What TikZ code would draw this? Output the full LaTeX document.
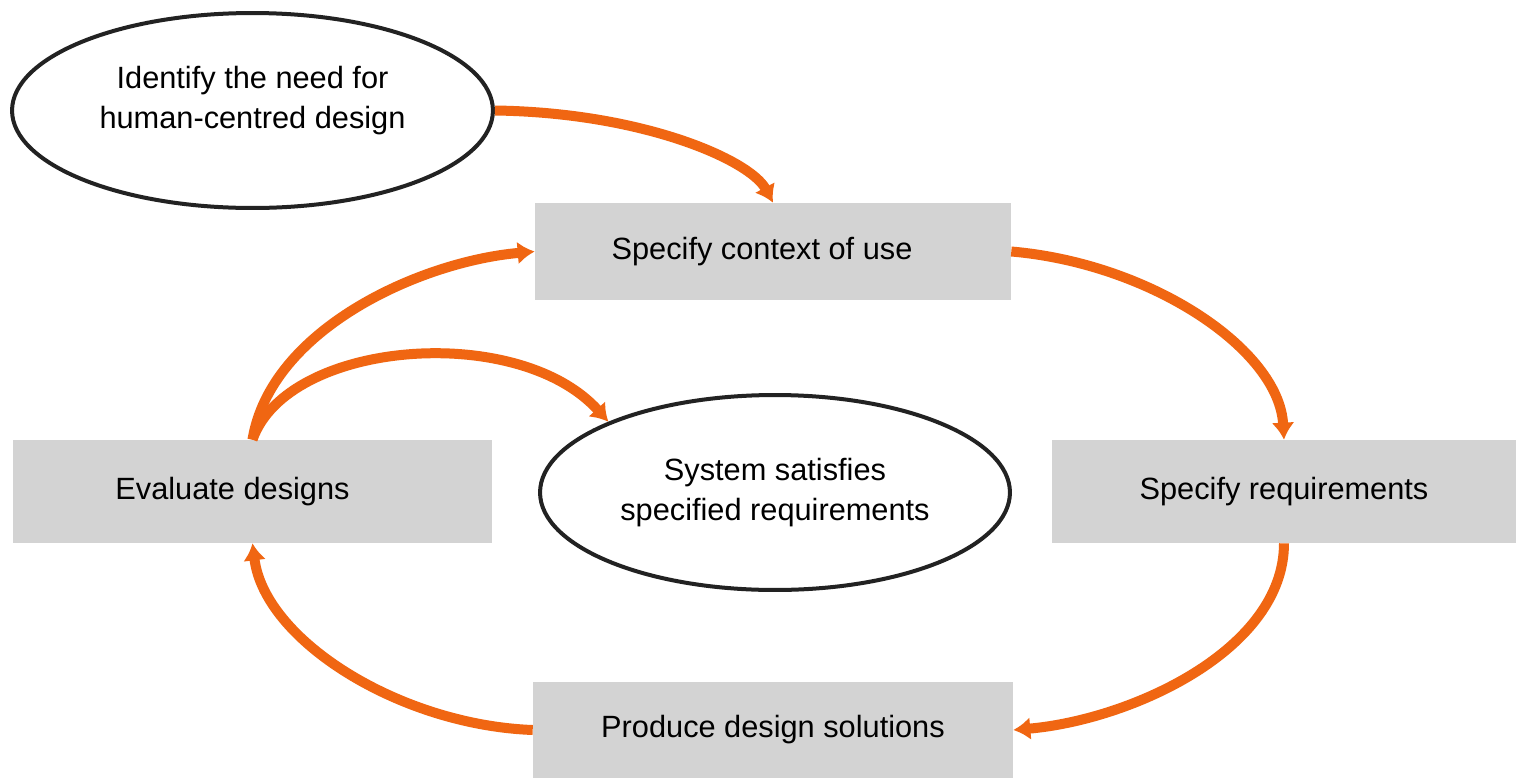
\documentclass[tikz,border=0pt]{standalone}
\usepackage{fontspec}
\setmainfont{Liberation Sans}
\usetikzlibrary{arrows.meta,shapes.geometric,calc}
\definecolor{boxgray}{RGB}{211,211,211}
\definecolor{arrorange}{RGB}{240,102,18}
\definecolor{ringgray}{RGB}{34,34,34}
\tikzset{
  lbl/.style={font=\fontsize{17.5}{22.7}\selectfont, text=black},
  graybox/.style={lbl, rectangle, fill=boxgray, draw=none, inner sep=0pt},
  ring/.style={lbl, align=center, ellipse, draw=ringgray, line width=0.08cm, fill=white, inner sep=0pt},
  flow/.style={draw=arrorange, line width=0.2cm, -{Latex[length=0.34cm,width=0.46cm]}}
}
\begin{document}
\begin{tikzpicture}[x=0.02cm,y=-0.02cm]
\fill[white] (0,0) rectangle (1516,778);
\useasboundingbox (0,0) rectangle (1516,778);

\node[ring, minimum width=9.62cm, minimum height=3.9cm, text depth=0.53cm] (need) at (252.5,110.5)
  {Identify the need for\\human-centred design};
\node[graybox, minimum width=9.52cm, minimum height=1.94cm] (ctx) at (773,251.5)
  {\hspace*{-0.44cm}Specify context of use};
\node[graybox, minimum width=9.58cm, minimum height=2.06cm] (eval) at (252.5,491.5)
  {\hspace*{-0.8cm}Evaluate designs};
\node[ring, minimum width=9.4cm, minimum height=3.9cm] (sys) at (775,492.5)
  {System satisfies\\specified requirements};
\node[graybox, minimum width=9.28cm, minimum height=2.06cm] (req) at (1284,491.5)
  {Specify requirements};
\node[graybox, minimum width=9.6cm, minimum height=1.92cm] (prod) at (773,730)
  {Produce design solutions};

\draw[flow] (need.east) .. controls +(147,2) and +(-23,-43) .. (ctx.north);
\draw[flow] (ctx.east) .. controls +(140,12) and +(-5,-90) .. (req.north);
\draw[flow] (req.south) .. controls +(0,107) and +(117,-10) .. (prod.east);
\draw[flow] (prod.west) .. controls +(-133,-5) and +(12,97) .. (eval.south);
\draw[flow] (eval.north) .. controls +(18,-110) and +(-115,10) .. (ctx.west);
\draw[flow] (eval.north) .. controls +(35,-100) and +(-90,-100) .. (sys.157);
\end{tikzpicture}
\end{document}
